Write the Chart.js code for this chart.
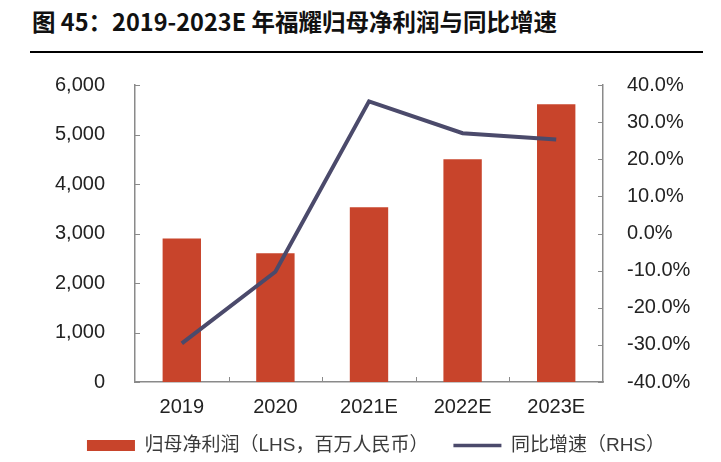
<!DOCTYPE html>
<html><head><meta charset="utf-8">
<script src="https://cdn.jsdelivr.net/npm/chart.js@4.4.1/dist/chart.umd.min.js"></script>
<style>
html,body{margin:0;padding:0;background:#fff;}
#wrap{position:relative;width:721px;height:462px;overflow:hidden;}
#title{position:absolute;left:32px;top:4px;font-family:"Noto Sans CJK SC";font-weight:bold;font-size:23.5px;line-height:34px;color:#111;white-space:nowrap;}
#rule{position:absolute;left:30px;top:51px;width:673px;height:2px;background:#000;}
canvas{position:absolute;left:0;top:0;}
</style></head><body>
<div id="wrap">
<div id="title">图 45：2019-2023E 年福耀归母净利润与同比增速</div>
<div id="rule"></div>
<canvas id="c" width="721" height="462"></canvas>
</div>
<script>
const categories = ['2019', '2020', '2021E', '2022E', '2023E'];
const netProfit = [2900, 2600, 3530, 4500, 5610];
const growthRate = [-29.6, -10.3, 35.6, 27.0, 25.3];
const leftTickValues = [0, 1000, 2000, 3000, 4000, 5000, 6000];
const rightTickValues = [-40, -30, -20, -10, 0, 10, 20, 30, 40];
const seriesNames = ['归母净利润（LHS，百万人民币）', '同比增速（RHS）'];

const BAR = '#c8442b';
const LINE = '#4b4a6b';
const AXIS = '#8a8a8a';
const FONT = '"Liberation Sans", Arial, "Noto Sans CJK SC", sans-serif';

const innerTicks = {
  id: 'innerTicks',
  afterDraw(chart) {
    const {ctx, chartArea: a, scales} = chart;
    ctx.save();
    ctx.strokeStyle = AXIS;
    ctx.lineWidth = 1;
    ctx.beginPath();
    scales.y.ticks.forEach((t, i) => {
      const p = Math.round(scales.y.getPixelForTick(i)) + 0.5;
      ctx.moveTo(a.left, p); ctx.lineTo(a.left + 5, p);
    });
    scales.y1.ticks.forEach((t, i) => {
      const p = Math.round(scales.y1.getPixelForTick(i)) + 0.5;
      ctx.moveTo(a.right - 5, p); ctx.lineTo(a.right, p);
    });
    for (let i = 1; i < categories.length; i++) {
      const p = Math.round(scales.x.getPixelForValue(i - 0.5)) + 0.5;
      ctx.moveTo(p, a.bottom); ctx.lineTo(p, a.bottom - 5);
    }
    ctx.stroke();
    ctx.restore();
  }
};

new Chart(document.getElementById('c'), {
  data: {
    labels: categories,
    datasets: [
      {
        type: 'line', label: seriesNames[1], data: growthRate, yAxisID: 'y1',
        borderColor: LINE, backgroundColor: LINE, borderWidth: 4,
        pointRadius: 0, tension: 0, order: 0, borderJoinStyle: 'miter'
      },
      {
        type: 'bar', label: seriesNames[0], data: netProfit, yAxisID: 'y',
        backgroundColor: BAR, borderWidth: 0, barPercentage: 0.41, categoryPercentage: 1, order: 1
      }
    ]
  },
  options: {
    responsive: false,
    devicePixelRatio: 1,
    animation: false,
    locale: 'en-US',
    layout: { padding: { left: 31, right: 0, top: 85, bottom: -3 } },
    plugins: {
      tooltip: { enabled: false },
      legend: {
        position: 'bottom',
        labels: {
          usePointStyle: true,
          pointStyleWidth: 48,
          boxHeight: 11,
          padding: 25,
          color: '#3a3a3a',
          font: { family: FONT, size: 19 },
          generateLabels() {
            return [
              { text: seriesNames[0], fillStyle: BAR, strokeStyle: BAR, lineWidth: 0, pointStyle: 'rect', datasetIndex: 1, fontColor: '#3a3a3a' },
              { text: seriesNames[1], fillStyle: LINE, strokeStyle: LINE, lineWidth: 3.5, pointStyle: 'line', datasetIndex: 0, fontColor: '#3a3a3a' }
            ];
          }
        }
      }
    },
    scales: {
      x: {
        type: 'category',
        grid: { display: false },
        border: { display: true, color: AXIS, width: 1.5 },
        ticks: { color: '#222', font: { family: FONT, size: 20 }, padding: 5, maxRotation: 0 },
        afterFit(s) { s.height = 29; s._computeLabelArea = () => null; }
      },
      y: {
        type: 'linear', position: 'left', min: 0, max: 6000,
        grid: { display: false },
        border: { display: true, color: AXIS, width: 1.5 },
        afterBuildTicks(s) { s.ticks = leftTickValues.map(v => ({ value: v })); },
        ticks: { color: '#222', font: { family: FONT, size: 20 }, padding: 22,
          callback: v => v.toLocaleString('en-US') },
        afterFit(s) { s.width = 104; }
      },
      y1: {
        type: 'linear', position: 'right', min: -40, max: 40,
        grid: { display: false },
        border: { display: true, color: AXIS, width: 1.5 },
        afterBuildTicks(s) { s.ticks = rightTickValues.map(v => ({ value: v })); },
        ticks: { color: '#222', font: { family: FONT, size: 20 }, padding: 16,
          callback: v => v.toFixed(1) + '%' },
        afterFit(s) { s.width = 118; }
      }
    }
  },
  plugins: [innerTicks]
});
</script>
</body></html>
